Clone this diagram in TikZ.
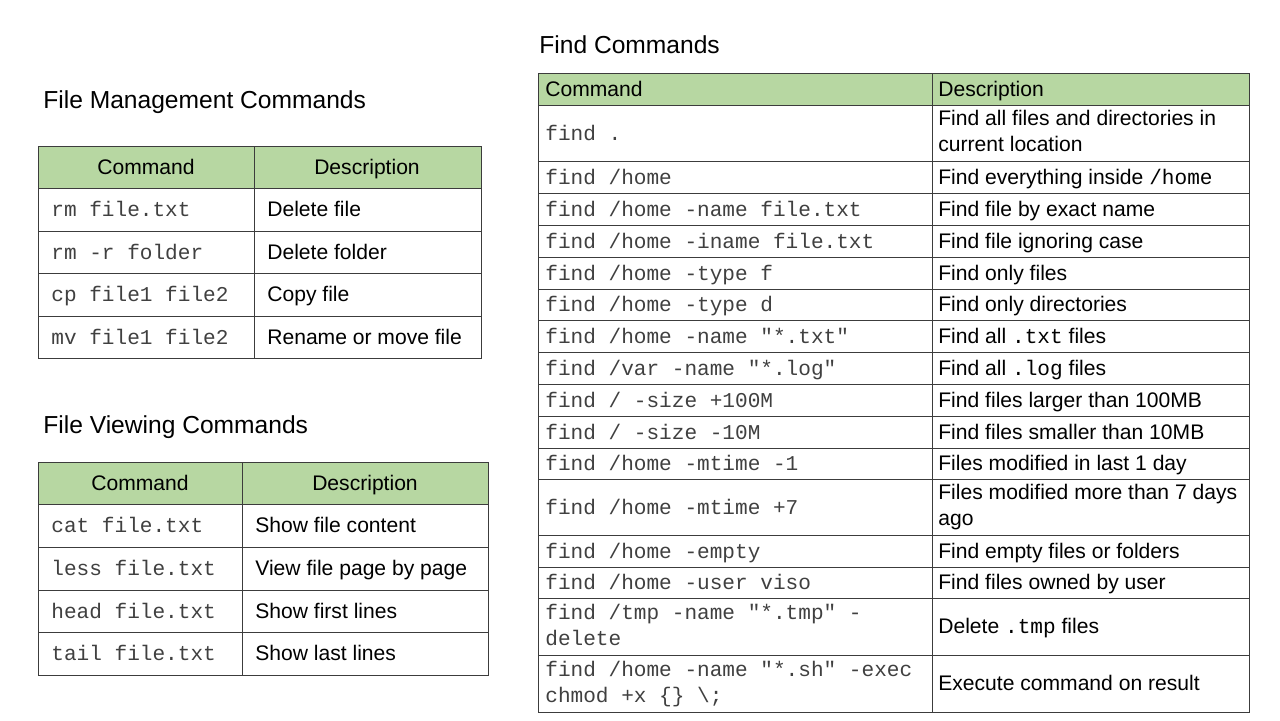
\documentclass[tikz,border=0pt]{standalone}
\usepackage{fontspec}
\setmainfont{Liberation Sans}
\setmonofont{Liberation Mono}
\usepackage{tikz}
\usetikzlibrary{positioning}
\definecolor{hdgreen}{RGB}{183,215,162}
\definecolor{rule}{RGB}{60,60,60}
\begin{document}
\begin{tikzpicture}[x=0.02cm,y=-0.02cm,
  title/.style={anchor=west,inner sep=0pt,font=\fontsize{14}{16}\selectfont},
  txt/.style={anchor=west,inner sep=0pt,align=left,yshift=-0.04cm,font=\fontsize{12}{15}\selectfont,
    execute at begin node=\strut,execute at end node=\strut},
  cmd/.style={anchor=west,inner sep=0pt,align=left,yshift=-0.04cm,font=\fontsize{12}{15}\selectfont\ttfamily,text=black!75,
    execute at begin node=\strut,execute at end node=\strut},
  hcell/.style={draw=rule,fill=hdgreen},
  bcell/.style={draw=rule}]
  \useasboundingbox (0,0) rectangle (1280,720);
  % titles
  \node[title] (t1) at (43,102) {File Management Commands};
  \node[title] (t2) at (43,427) {File Viewing Commands};
  \node[title] (t3) at (539,45) {Find Commands};
  % file management table
  \draw[hcell] (38,146) rectangle (254,188);
  \draw[hcell] (254,146) rectangle (481,188);
  \node[txt,anchor=center] (m-hc) at (146,167) {Command};
  \node[txt,anchor=center] (m-hd) at (367,167) {Description};
  \foreach \i/\t/\b/\c/\d in {1/188/231/rm file.txt/Delete file,
      2/231/273/rm -r folder/Delete folder,
      3/273/316/cp file1 file2/Copy file,
      4/316/358/mv file1 file2/Rename or move file}{
    \draw[bcell] (38,\t) rectangle (254,\b);
    \draw[bcell] (254,\t) rectangle (481,\b);
    \node[cmd] (m-c\i) at (51,{(\t+\b)/2}) {\c};
    \node[txt] (m-d\i) at (267,{(\t+\b)/2}) {\d};
  }
  % file viewing table
  \draw[hcell] (38,462) rectangle (242,504);
  \draw[hcell] (242,462) rectangle (488,504);
  \node[txt,anchor=center] (v-hc) at (140,483) {Command};
  \node[txt,anchor=center] (v-hd) at (365,483) {Description};
  \foreach \i/\t/\b/\c/\d in {1/504/547/cat file.txt/Show file content,
      2/547/590/less file.txt/View file page by page,
      3/590/632/head file.txt/Show first lines,
      4/632/675/tail file.txt/Show last lines}{
    \draw[bcell] (38,\t) rectangle (242,\b);
    \draw[bcell] (242,\t) rectangle (488,\b);
    \node[cmd] (v-c\i) at (51,{(\t+\b)/2}) {\c};
    \node[txt] (v-d\i) at (255,{(\t+\b)/2}) {\d};
  }
  % find table
  \draw[hcell] (538,73) rectangle (932,105);
  \draw[hcell] (932,73) rectangle (1249,105);
  \node[txt] (f-hc) at (545,89) {Command};
  \node[txt] (f-hd) at (938,89) {Description};
  \foreach \i/\t/\b/\c/\d in {
      1/105/161/{find .}/{Find all files and directories in\\current location},
      2/161/193/{find /home}/{Find everything inside \texttt{/home}},
      3/193/225/{find /home -name file.txt}/{Find file by exact name},
      4/225/257/{find /home -iname file.txt}/{Find file ignoring case},
      5/257/289/{find /home -type f}/{Find only files},
      6/289/320/{find /home -type d}/{Find only directories},
      7/320/352/{find /home -name "*.txt"}/{Find all \texttt{.txt} files},
      8/352/384/{find /var -name "*.log"}/{Find all \texttt{.log} files},
      9/384/416/{find / -size +100M}/{Find files larger than 100MB},
      10/416/448/{find / -size -10M}/{Find files smaller than 10MB},
      11/448/479/{find /home -mtime -1}/{Files modified in last 1 day},
      12/479/535/{find /home -mtime +7}/{Files modified more than 7 days\\ago},
      13/535/567/{find /home -empty}/{Find empty files or folders},
      14/567/598/{find /home -user viso}/{Find files owned by user},
      15/598/655/{find /tmp -name "*.tmp" -\\delete}/{Delete \texttt{.tmp} files},
      16/655/712/{find /home -name "*.sh" -exec\\chmod +x \{\} \textbackslash;}/{Execute command on result}}{
    \draw[bcell] (538,\t) rectangle (932,\b);
    \draw[bcell] (932,\t) rectangle (1249,\b);
    \node[cmd] (f-c\i) at (545,{(\t+\b)/2}) {\c};
    \node[txt] (f-d\i) at (938,{(\t+\b)/2}) {\d};
  }
\end{tikzpicture}
\end{document}
